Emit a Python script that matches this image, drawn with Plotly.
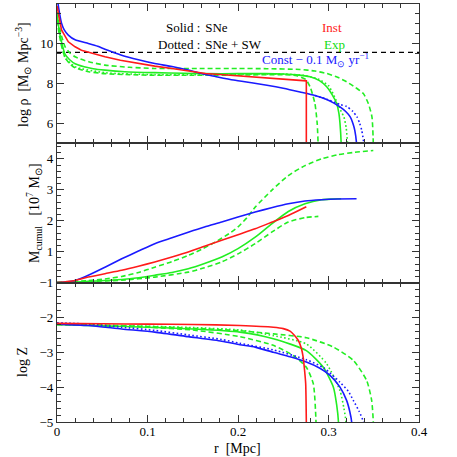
import plotly.graph_objects as go
from plotly.subplots import make_subplots

# ---------------- data ----------------
# Top panel: log rho [Msun Mpc^-3]
rho_inst_x = [0, 0.0015, 0.005, 0.0125, 0.02, 0.027, 0.04, 0.053, 0.07, 0.09, 0.108, 0.127, 0.145, 0.164, 0.18, 0.2, 0.22, 0.24, 0.26, 0.2755, 0.2755]
rho_inst_y = [11.9, 11.53, 10.7, 10.1, 9.85, 9.68, 9.5, 9.35, 9.17, 9.01, 8.88, 8.76, 8.63, 8.51, 8.46, 8.39, 8.33, 8.27, 8.2, 8.14, 4.5]

rho_const_x = [0, 0.002, 0.005, 0.008, 0.0125, 0.02, 0.0346, 0.045, 0.053, 0.0714, 0.09, 0.108, 0.127, 0.145, 0.158, 0.175, 0.195, 0.215, 0.232, 0.25, 0.2685, 0.285, 0.298, 0.306, 0.3127, 0.319, 0.324, 0.327, 0.329, 0.331, 0.3315]
rho_const_y = [12.4, 11.75, 11.03, 10.7, 10.44, 10.2, 10.02, 9.88, 9.73, 9.43, 9.2, 9.01, 8.86, 8.68, 8.52, 8.36, 8.18, 8.04, 7.92, 7.77, 7.58, 7.4, 7.2, 7.02, 6.83, 6.6, 6.33, 6.0, 5.66, 5.0, 4.5]

rho_const_sw_x = [0.285, 0.298, 0.3127, 0.32, 0.327, 0.3315, 0.3345, 0.3367, 0.339, 0.3393]
rho_const_sw_y = [7.4, 7.22, 6.95, 6.85, 6.6, 6.33, 6.0, 5.66, 5.0, 4.5]

rho_exp_x = [0, 0.002, 0.005, 0.009, 0.014, 0.02, 0.03, 0.04, 0.053, 0.075, 0.108, 0.14, 0.163, 0.2, 0.23, 0.25, 0.265, 0.2796, 0.29, 0.298, 0.304, 0.309, 0.3115, 0.3127, 0.314, 0.3142]
rho_exp_y = [11.6, 10.8, 10.1, 9.47, 9.2, 9.0, 8.85, 8.75, 8.68, 8.6, 8.55, 8.52, 8.5, 8.5, 8.5, 8.48, 8.44, 8.34, 8.15, 7.84, 7.45, 7.0, 6.5, 6.0, 5.0, 4.5]

rho_exp_sw_x = [0, 0.002, 0.005, 0.009, 0.02, 0.053, 0.108, 0.163, 0.2, 0.25, 0.275, 0.29, 0.3, 0.305, 0.31, 0.314, 0.317, 0.3195, 0.321, 0.3212]
rho_exp_sw_y = [11.6, 10.7, 10.0, 9.3, 8.85, 8.55, 8.45, 8.45, 8.47, 8.48, 8.4, 8.2, 7.9, 7.5, 7.0, 6.6, 6.33, 5.8, 5.0, 4.5]

rho_exp_a_x = [0, 0.002, 0.005, 0.009, 0.014, 0.02, 0.035, 0.053, 0.08, 0.108, 0.163, 0.2, 0.232, 0.2685, 0.285, 0.298, 0.31, 0.32, 0.33, 0.3385, 0.344, 0.348, 0.3495, 0.3497]
rho_exp_a_y = [11.6, 11.0, 10.4, 9.85, 9.55, 9.35, 9.1, 8.93, 8.82, 8.76, 8.76, 8.76, 8.75, 8.71, 8.63, 8.51, 8.32, 8.09, 7.8, 7.5, 7.0, 6.33, 5.0, 4.5]

rho_exp_b_x = [0, 0.002, 0.005, 0.009, 0.014, 0.02, 0.035, 0.053, 0.08, 0.108, 0.15, 0.2, 0.25, 0.265, 0.275, 0.28, 0.285, 0.2875, 0.2885, 0.2887]
rho_exp_b_y = [11.6, 10.6, 9.9, 9.3, 9.0, 8.8, 8.6, 8.5, 8.45, 8.42, 8.42, 8.43, 8.45, 8.4, 8.2, 7.8, 7.0, 6.0, 5.0, 4.5]

rho_threshold = 9.57

# Middle panel: M_cumul [1e7 Msun]
m_inst_x = [0, 0.01, 0.02, 0.0346, 0.053, 0.0715, 0.09, 0.108, 0.127, 0.145, 0.163, 0.182, 0.2, 0.219, 0.237, 0.2556, 0.2755]
m_inst_y = [0, 0.03, 0.07, 0.18, 0.29, 0.4, 0.53, 0.67, 0.83, 0.99, 1.18, 1.37, 1.55, 1.74, 1.95, 2.17, 2.45]

m_const_x = [0, 0.01, 0.02, 0.0346, 0.053, 0.0715, 0.09, 0.108, 0.127, 0.145, 0.163, 0.182, 0.2, 0.219, 0.237, 0.2556, 0.274, 0.2925, 0.31, 0.331]
m_const_y = [0, 0.02, 0.07, 0.24, 0.5, 0.77, 1.02, 1.26, 1.45, 1.63, 1.8, 1.96, 2.12, 2.28, 2.42, 2.55, 2.64, 2.68, 2.7, 2.71]

m_exp_x = [0, 0.02, 0.0346, 0.053, 0.0715, 0.09, 0.108, 0.127, 0.145, 0.163, 0.182, 0.2, 0.219, 0.2372, 0.2556, 0.274, 0.2925, 0.305, 0.314]
m_exp_y = [0, 0.02, 0.04, 0.07, 0.1, 0.16, 0.24, 0.33, 0.45, 0.62, 0.83, 1.1, 1.47, 1.9, 2.3, 2.55, 2.68, 2.7, 2.71]

m_exp_a_x = [0, 0.02, 0.0346, 0.053, 0.0715, 0.09, 0.108, 0.127, 0.145, 0.16, 0.1747, 0.19, 0.2, 0.21, 0.219, 0.2372, 0.2556, 0.274, 0.2925, 0.31, 0.3288, 0.3495]
m_exp_a_y = [0, 0.03, 0.07, 0.12, 0.2, 0.33, 0.5, 0.68, 0.88, 1.08, 1.31, 1.58, 1.8, 2.1, 2.44, 2.98, 3.46, 3.78, 4.0, 4.13, 4.21, 4.27]

m_exp_b_x = [0, 0.02, 0.0346, 0.0715, 0.108, 0.145, 0.163, 0.182, 0.2, 0.219, 0.2372, 0.2556, 0.274, 0.2888]
m_exp_b_y = [0, 0.02, 0.04, 0.08, 0.18, 0.34, 0.48, 0.67, 0.93, 1.26, 1.63, 1.96, 2.1, 2.14]

# Bottom panel: log Z
z_inst_x = [0, 0.05, 0.1, 0.15, 0.202, 0.239, 0.25, 0.2575, 0.262, 0.2667, 0.27, 0.272, 0.2735, 0.2748, 0.2755, 0.2756]
z_inst_y = [-2.17, -2.18, -2.19, -2.2, -2.23, -2.28, -2.32, -2.39, -2.5, -2.66, -2.88, -3.14, -3.5, -3.9, -5.0, -5.5]

z_const_x = [0, 0.0346, 0.0715, 0.108, 0.145, 0.182, 0.202, 0.219, 0.239, 0.2575, 0.2755, 0.29, 0.3017, 0.3127, 0.32, 0.3235, 0.3256, 0.3258]
z_const_y = [-2.19, -2.23, -2.33, -2.42, -2.55, -2.68, -2.78, -2.85, -3.0, -3.13, -3.28, -3.45, -3.66, -4.0, -4.38, -4.7, -5.0, -5.5]

z_const_sw_x = [0, 0.0346, 0.0715, 0.108, 0.145, 0.182, 0.202, 0.239, 0.2755, 0.295, 0.3127, 0.322, 0.3274, 0.334, 0.3385, 0.3387]
z_const_sw_y = [-2.15, -2.19, -2.28, -2.37, -2.5, -2.63, -2.74, -2.93, -3.21, -3.45, -3.86, -4.12, -4.38, -4.7, -5.0, -5.5]

z_exp_x = [0, 0.05, 0.1, 0.15, 0.202, 0.239, 0.2755, 0.2943, 0.3054, 0.309, 0.311, 0.3112]
z_exp_y = [-2.2, -2.24, -2.28, -2.33, -2.42, -2.61, -2.95, -3.43, -4.0, -4.5, -5.0, -5.5]

z_exp_sw_x = [0, 0.05, 0.1, 0.15, 0.202, 0.239, 0.2755, 0.298, 0.3127, 0.317, 0.3193, 0.3195]
z_exp_sw_y = [-2.2, -2.22, -2.25, -2.29, -2.36, -2.52, -2.76, -3.33, -4.1, -4.6, -5.0, -5.5]

z_exp_a_x = [0, 0.05, 0.1, 0.15, 0.202, 0.239, 0.2755, 0.3054, 0.3274, 0.3422, 0.3477, 0.3495, 0.3497]
z_exp_a_y = [-2.2, -2.22, -2.26, -2.31, -2.38, -2.47, -2.58, -2.85, -3.23, -3.81, -4.38, -5.0, -5.5]

z_exp_b_x = [0, 0.05, 0.1, 0.15, 0.202, 0.239, 0.261, 0.2755, 0.2832, 0.2862, 0.2864]
z_exp_b_y = [-2.2, -2.23, -2.28, -2.36, -2.55, -2.8, -3.09, -3.43, -3.9, -5.0, -5.5]

x_tick_vals = [0, 0.1, 0.2, 0.3, 0.4]
x_tick_text = ["0", "0.1", "0.2", "0.3", "0.4"]

# ---------------- style ----------------
RED = "#ff1a1a"
GREEN = "#22ee22"
BLUE = "#1a1aff"
DASH = "5px,3px"
DOT = "1.6px,2.4px"
FONT = "Liberation Serif"
W = 1.6

fig = make_subplots(rows=3, cols=1, shared_xaxes=True, vertical_spacing=0)


def add(x, y, color, row, dash="solid", shape="spline"):
    fig.add_trace(go.Scatter(x=x, y=y, mode="lines",
                             line=dict(color=color, width=W, dash=dash, shape=shape,
                                       smoothing=0.6 if shape == "spline" else None),
                             showlegend=False, hoverinfo="skip"), row=row, col=1)


# top
fig.add_trace(go.Scatter(x=[0, 0.4], y=[rho_threshold, rho_threshold], mode="lines",
                         line=dict(color="black", width=1.2, dash="5px,4px"),
                         showlegend=False, hoverinfo="skip"), row=1, col=1)
add(rho_exp_a_x, rho_exp_a_y, GREEN, 1, DASH)
add(rho_exp_b_x, rho_exp_b_y, GREEN, 1, DASH)
add(rho_exp_sw_x, rho_exp_sw_y, GREEN, 1, DOT)
add(rho_exp_x, rho_exp_y, GREEN, 1)
add(rho_const_sw_x, rho_const_sw_y, BLUE, 1, DOT)
add(rho_const_x, rho_const_y, BLUE, 1)
add(rho_inst_x, rho_inst_y, RED, 1, shape="linear")

# middle
add(m_exp_a_x, m_exp_a_y, GREEN, 2, DASH)
add(m_exp_b_x, m_exp_b_y, GREEN, 2, DASH)
add(m_exp_x, m_exp_y, GREEN, 2)
add(m_const_x, m_const_y, BLUE, 2)
add(m_inst_x, m_inst_y, RED, 2)

# bottom
add(z_exp_a_x, z_exp_a_y, GREEN, 3, DASH)
add(z_exp_b_x, z_exp_b_y, GREEN, 3, DASH)
add(z_exp_sw_x, z_exp_sw_y, GREEN, 3, DOT)
add(z_exp_x, z_exp_y, GREEN, 3)
add(z_const_sw_x, z_const_sw_y, BLUE, 3, DOT)
add(z_const_x, z_const_y, BLUE, 3)
add(z_inst_x, z_inst_y, RED, 3)

axis_common = dict(showline=True, linecolor="#333", linewidth=1.2, mirror="allticks",
                   ticks="inside", ticklen=7, tickwidth=1.2, tickcolor="#333",
                   showgrid=False, zeroline=False, automargin=False,
                   tickfont=dict(family=FONT, size=13, color="black"))

for r in (1, 2, 3):
    fig.update_xaxes(range=[0, 0.4], tickvals=x_tick_vals, ticktext=x_tick_text,
                     minor=dict(dtick=0.02, ticks="inside", ticklen=4, tickcolor="#333"),
                     row=r, col=1, **axis_common)
fig.update_xaxes(showticklabels=True, ticklabelstandoff=-3, row=3, col=1)

fig.update_yaxes(range=[5, 12], tickvals=[6, 8, 10, 12],
                 minor=dict(dtick=0.5, ticks="inside", ticklen=4, tickcolor="#333"),
                 row=1, col=1, **axis_common)
fig.update_yaxes(range=[0, 4.5], tickvals=[0, 1, 2, 3, 4], ticktext=["", "1", "2", "3", "4"],
                 minor=dict(dtick=0.2, ticks="inside", ticklen=4, tickcolor="#333"),
                 row=2, col=1, **axis_common)
fig.update_yaxes(range=[-5, -1], tickvals=[-5, -4, -3, -2, -1],
                 minor=dict(dtick=0.2, ticks="inside", ticklen=4, tickcolor="#333"),
                 row=3, col=1, **axis_common)

L, R, T, B = 57, 419, 4, 422


def px(x):
    return (x - L) / (R - L)


def py(y):
    return (B - y) / (B - T)


ann = []


def text(s, x, y, color="black", size=13, xanchor="center", angle=0):
    ann.append(dict(text=s, x=px(x), y=py(y), xref="paper", yref="paper",
                    xanchor=xanchor, yanchor="middle", showarrow=False, textangle=angle,
                    font=dict(family=FONT, size=size, color=color)))


text("Solid :", 202, 28, xanchor="right")
text(" SNe", 200, 28, xanchor="left")
text("Dotted :", 202, 44, xanchor="right")
text(" SNe + SW", 200, 44, xanchor="left")
text("Inst", 332, 28, color=RED)
text("Exp", 334, 44, color="#11dd11")
text("Const − 0.1 M<sub>⊙</sub> yr<sup>−1</sup>", 315, 60, color=BLUE)
text("log ρ  [M<sub>⊙</sub> Mpc<sup>−3</sup>]", 23, 75, size=14, angle=-90)
text("M<sub>cumul</sub>   [10<sup>7</sup> M<sub>⊙</sub>]", 34, 213, size=14, angle=-90)
text("log Z", 22, 362, size=14, angle=-90)
text("r  [Mpc]", 237, 448, size=14)

fig.update_layout(width=457, height=457, margin=dict(l=L, r=457 - R, t=T, b=457 - B, autoexpand=False),
                  plot_bgcolor="white", paper_bgcolor="white", annotations=ann,
                  font=dict(family=FONT, size=13, color="black"))

fig.write_html("out.html", config={"displayModeBar": False},
               post_script="document.body.style.margin='0px';")
